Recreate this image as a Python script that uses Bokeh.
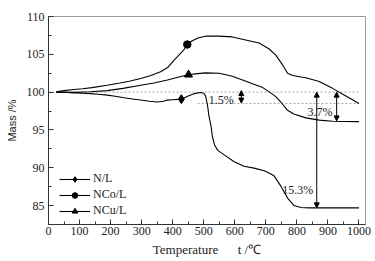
from bokeh.plotting import figure
from bokeh.models import (SingleIntervalTicker, Legend, LegendItem, Label, Arrow,
                          NormalHead)
from bokeh.embed import file_html
from bokeh.resources import INLINE

# ---- data ----
nl_t = [25, 50, 80, 110, 135, 160, 189, 215, 243, 270, 297, 325, 351, 370, 383, 400,
        428, 450, 469, 490, 500, 506, 512, 517, 523, 528, 535, 545, 566, 598, 630,
        662, 695, 715, 727, 748, 770, 791, 813, 840, 867, 1000]
nl_m = [100.0, 99.98, 99.9, 99.85, 99.8, 99.72, 99.6, 99.45, 99.25, 99.1, 98.95, 98.8,
        98.7, 98.8, 98.95, 99.0, 99.07, 99.5, 99.8, 99.95, 99.85, 99.5, 98.3, 96.8,
        95.6, 94.1, 93.0, 92.3, 91.7, 90.8, 90.2, 89.95, 89.6, 89.2, 88.9, 87.6, 86.0,
        85.0, 84.75, 84.7, 84.7, 84.7]

nco_t = [25, 50, 82, 110, 140, 189, 230, 260, 297, 330, 361, 385, 404, 420, 436, 447,
         463, 484, 506, 550, 592, 635, 678, 711, 732, 754, 770, 786, 813, 829, 872,
         915, 958, 1000]
nco_m = [100.05, 100.2, 100.35, 100.45, 100.6, 100.9, 101.2, 101.45, 101.8, 102.2,
         102.7, 103.3, 104.2, 104.9, 105.6, 106.3, 106.8, 107.2, 107.4, 107.4, 107.3,
         106.9, 106.5, 105.7, 104.9, 103.6, 102.5, 102.2, 102.0, 101.9, 101.4, 100.5,
         99.5, 98.5]

ncu_t = [25, 82, 135, 189, 240, 297, 340, 383, 420, 450, 480, 506, 550, 592, 625, 657,
         690, 712, 732, 750, 770, 790, 829, 872, 915, 1000]
ncu_m = [100.0, 99.97, 100.05, 100.2, 100.5, 100.9, 101.2, 101.6, 102.0, 102.3, 102.45,
         102.55, 102.5, 102.1, 101.6, 101.1, 100.6, 100.0, 99.4, 98.6, 97.6, 97.1,
         96.6, 96.3, 96.15, 96.1]

series_names = ["N/L", "NCo/L", "NCu/L"]
marker_t = [428, 447, 451]
marker_m = [99.07, 106.3, 102.3]
marker_kind = ["diamond", "circle", "triangle"]
marker_size = [9, 7.5, 8]

x_ticks_interval = 100
y_ticks_interval = 5

SERIF = "Liberation Serif"
SANS = "Liberation Sans"
NB = "\u00a0"

p = figure(width=375, height=261, x_range=(0, 1021), y_range=(82.5, 110),
           output_backend="svg", toolbar_location=None,
           min_border_left=48, min_border_right=10, min_border_top=16,
           min_border_bottom=37)
p.background_fill_color = "white"
p.border_fill_color = "white"
p.outline_line_color = "#9a9a9a"
p.outline_line_width = 1
p.xgrid.visible = False
p.ygrid.visible = False

p.xaxis.ticker = SingleIntervalTicker(interval=x_ticks_interval, num_minor_ticks=2)
p.yaxis.ticker = SingleIntervalTicker(interval=y_ticks_interval, num_minor_ticks=2)
for ax in (p.xaxis, p.yaxis):
    ax.major_tick_in = 5
    ax.major_tick_out = 0
    ax.minor_tick_in = 3
    ax.minor_tick_out = 0
    ax.axis_line_color = "#333333"
    ax.major_tick_line_color = "#333333"
    ax.minor_tick_line_color = "#333333"
    ax.major_label_text_font = SERIF
    ax.major_label_text_font_size = "12px"
    ax.major_label_text_color = "#222222"
    ax.axis_label_text_font_style = "normal"
    ax.axis_label_text_color = "#222222"
p.xaxis.major_label_standoff = 2
p.yaxis.major_label_standoff = 4

p.yaxis.axis_label = "Mass /%"
p.yaxis.axis_label_text_font = SANS
p.yaxis.axis_label_text_font_size = "11px"
p.yaxis.axis_label_standoff = 6

p.xaxis.axis_label = "Temperature" + NB * 6 + "t /\u2103"
p.xaxis.axis_label_text_font = SERIF
p.xaxis.axis_label_text_font_size = "13px"
p.xaxis.axis_label_standoff = 4

# reference dashed lines
p.line([0, 1000], [100, 100], line_color="#aaaaaa", line_dash="2 2", line_width=1)
p.line([480, 1000], [98.5, 98.5], line_color="#aaaaaa", line_dash="2 2", line_width=1)

data = [(nl_t, nl_m), (nco_t, nco_m), (ncu_t, ncu_m)]
items = []
for i, (tt, mm) in enumerate(data):
    lr = p.line(tt, mm, line_color="black", line_width=1.1)
    sr = p.scatter([marker_t[i]], [marker_m[i]], marker=marker_kind[i],
                   size=marker_size[i], fill_color="black", line_color="black")
    items.append(LegendItem(label=series_names[i], renderers=[lr, sr]))

legend = Legend(items=items, location=(11, 6))
legend.label_text_font = SERIF
legend.label_text_font_size = "12px"
legend.label_text_color = "#222222"
legend.glyph_width = 31
legend.glyph_height = 14
legend.label_standoff = 3
legend.spacing = 1
legend.padding = 0
legend.margin = 0
legend.border_line_color = None
legend.background_fill_alpha = 0
p.add_layout(legend)

# arrows
def darrow(x, y0, y1):
    p.add_layout(Arrow(start=NormalHead(size=5, fill_color="black", line_color="black"),
                       end=NormalHead(size=5, fill_color="black", line_color="black"),
                       x_start=x, y_start=y0, x_end=x, y_end=y1,
                       line_color="black", line_width=1))

darrow(621, 100.2, 98.55)
darrow(928, 100.0, 96.2)
darrow(864, 100.0, 84.7)

def txt(x, y, s, size="12px"):
    p.add_layout(Label(x=x, y=y, text=s, text_font=SERIF, text_font_size=size,
                       text_align="left", text_baseline="middle",
                       text_color="#222222"))

txt(516, 98.9, "1.5%")
txt(834, 97.35, "3.7%")
txt(753, 87.0, "15.3%")

open("out.html", "w").write(file_html(p, INLINE))
